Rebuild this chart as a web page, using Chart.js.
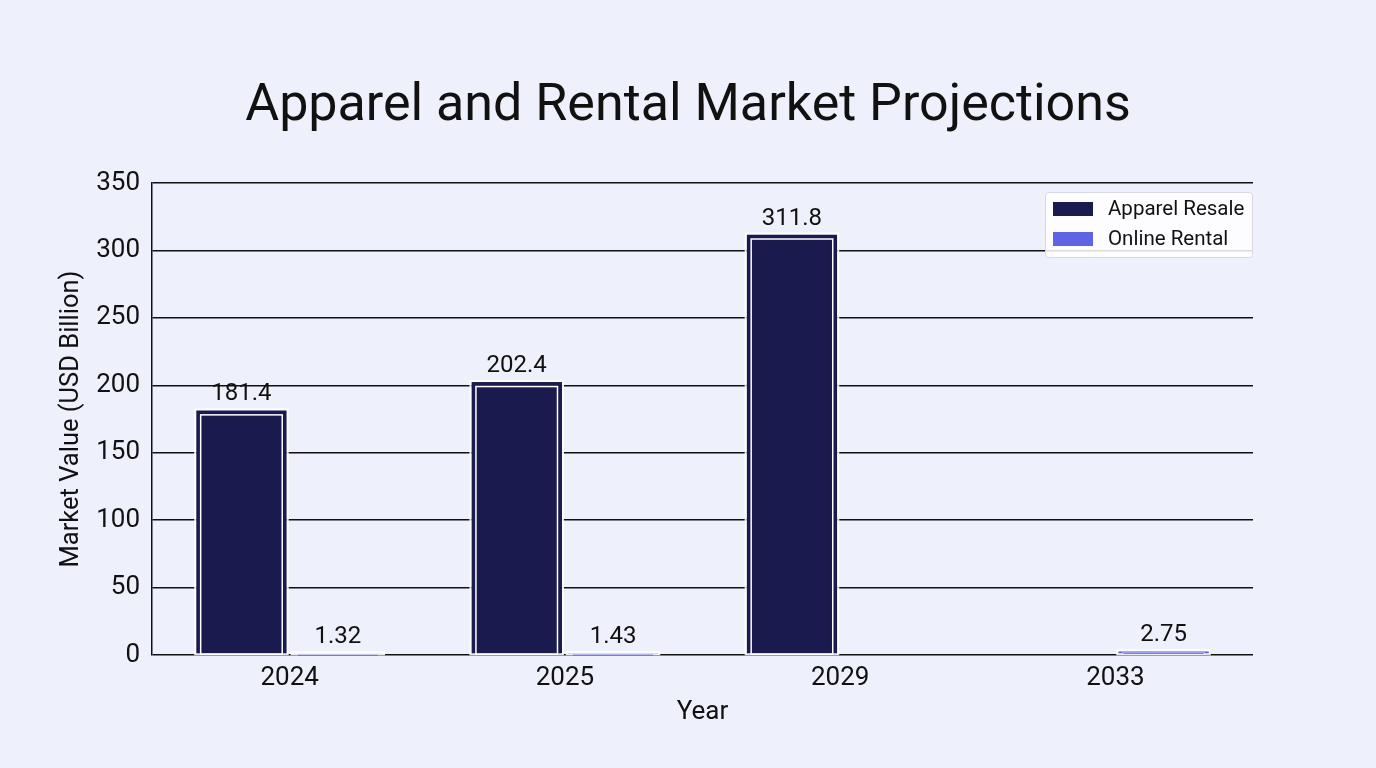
<!DOCTYPE html>
<html>
<head>
<meta charset="utf-8">
<script src="https://cdn.jsdelivr.net/npm/chart.js@4.4.1/dist/chart.umd.min.js"></script>
<style>
  html, body { margin: 0; padding: 0; background: #eef0fb; }
  #wrap { width: 1376px; height: 768px; position: relative; }
</style>
</head>
<body>
<div id="wrap"><canvas id="c" width="1376" height="768"></canvas></div>
<script>
const categories = ["2024", "2025", "2029", "2033"];
const apparelResale = [181.4, 202.4, 311.8, null];
const onlineRental = [1.32, 1.43, null, 2.75];
const seriesNames = ["Apparel Resale", "Online Rental"];
const yTicks = [0, 50, 100, 150, 200, 250, 300, 350];
const chartTitle = "Apparel and Rental Market Projections";

const DARK = "#1a1a4f";
const LIGHT = "#5f64e4";
const FONT = "Roboto, 'Noto Sans', sans-serif";

const titlePlugin = {
  id: "titlePlugin",
  afterDraw(chart) {
    const ctx = chart.ctx;
    ctx.save();
    ctx.fillStyle = "#111";
    ctx.font = "52px " + FONT;
    ctx.textAlign = "center";
    ctx.textBaseline = "alphabetic";
    ctx.fillText(chartTitle, chart.width / 2, 120);
    ctx.restore();
  }
};

const barDecor = {
  id: "barDecor",
  afterDatasetsDraw(chart) {
    const ctx = chart.ctx;
    chart.data.datasets.forEach((ds, di) => {
      const meta = chart.getDatasetMeta(di);
      meta.data.forEach((bar, i) => {
        const v = ds.data[i];
        if (v === null || v === undefined) return;
        const left = bar.x - bar.width / 2, right = bar.x + bar.width / 2;
        const top = Math.min(bar.y, bar.base), bottom = Math.max(bar.y, bar.base);
        ctx.save();
        ctx.strokeStyle = "rgba(255,255,255,0.9)";
        ctx.lineWidth = 2;
        ctx.strokeRect(left - 1, top - 1, right - left + 2, bottom - top + 1);
        const h = bottom - top;
        if (h > 10) {
          ctx.lineWidth = 1.5;
          ctx.strokeStyle = "#ffffff";
          ctx.strokeRect(left + 4.5, top + 4.5, right - left - 9, h - 4.5);
        } else {
          ctx.fillStyle = "rgba(255,255,255,0.7)";
          ctx.fillRect(left + 4, top + 1, right - left - 8, Math.max(h - 1, 1));
          ctx.fillStyle = ds.backgroundColor;
          ctx.fillRect(left + 5, top + 1.5, right - left - 10, Math.max(h - 2, 1));
        }
        ctx.restore();
        ctx.save();
        ctx.fillStyle = "#111";
        ctx.font = "24px " + FONT;
        ctx.textAlign = "center";
        ctx.textBaseline = "bottom";
        ctx.fillText(String(v), bar.x, top - 4);
        ctx.restore();
      });
    });
  }
};

const boxLegend = {
  id: "boxLegend",
  afterDraw(chart) {
    const ctx = chart.ctx;
    const area = chart.chartArea;
    const w = 208, h = 65;
    const x = area.right - w, y = area.top + 9;
    ctx.save();
    ctx.fillStyle = "rgba(255,255,255,0.85)";
    ctx.strokeStyle = "#d6d8e2";
    ctx.lineWidth = 1;
    ctx.beginPath();
    ctx.roundRect(x + 0.5, y + 0.5, w - 1, h, 3);
    ctx.fill();
    ctx.stroke();
    ctx.font = "20.5px " + FONT;
    ctx.textBaseline = "middle";
    chart.data.datasets.forEach((ds, i) => {
      const cy = y + 17 + i * 30;
      ctx.fillStyle = ds.backgroundColor;
      ctx.fillRect(x + 8, cy - 7, 40, 14);
      ctx.fillStyle = "#111";
      ctx.fillText(ds.label, x + 63, cy + 1);
    });
    ctx.restore();
  }
};

new Chart(document.getElementById("c"), {
  type: "bar",
  data: {
    labels: categories,
    datasets: [
      { label: seriesNames[0], data: apparelResale, backgroundColor: DARK, borderWidth: 0 },
      { label: seriesNames[1], data: onlineRental, backgroundColor: LIGHT, borderWidth: 0 }
    ]
  },
  options: {
    responsive: false,
    animation: false,
    devicePixelRatio: 1,
    layout: { padding: { left: 0, right: 123, top: 183, bottom: 0 } },
    datasets: { bar: { categoryPercentage: 0.7, barPercentage: 0.94 } },
    plugins: {
      legend: { display: false },
      tooltip: { enabled: false },
      title: { display: false }
    },
    scales: {
      x: {
        afterFit(axis) { axis.height = 113; },
        grid: { display: false, drawTicks: false },
        border: { display: false },
        ticks: { color: "#111", font: { family: FONT, size: 26 }, padding: 8 },
        title: { display: true, text: "Year", color: "#111", font: { family: FONT, size: 26 }, padding: { top: 0, bottom: 40 } }
      },
      y: {
        min: 0, max: 350,
        afterFit(axis) { axis.width = 152; },
        afterBuildTicks(axis) { axis.ticks = yTicks.map(v => ({ value: v })); },
        grid: { color: "#111", lineWidth: 1.5, drawTicks: false },
        border: { display: true, color: "#111", width: 1.5 },
        ticks: { color: "#111", font: { family: FONT, size: 26 }, padding: 12 },
        title: { display: true, text: "Market Value (USD Billion)", color: "#111", font: { family: FONT, size: 25.5 }, padding: { top: 56, bottom: 0 } }
      }
    }
  },
  plugins: [barDecor, boxLegend, titlePlugin]
});
</script>
</body>
</html>
